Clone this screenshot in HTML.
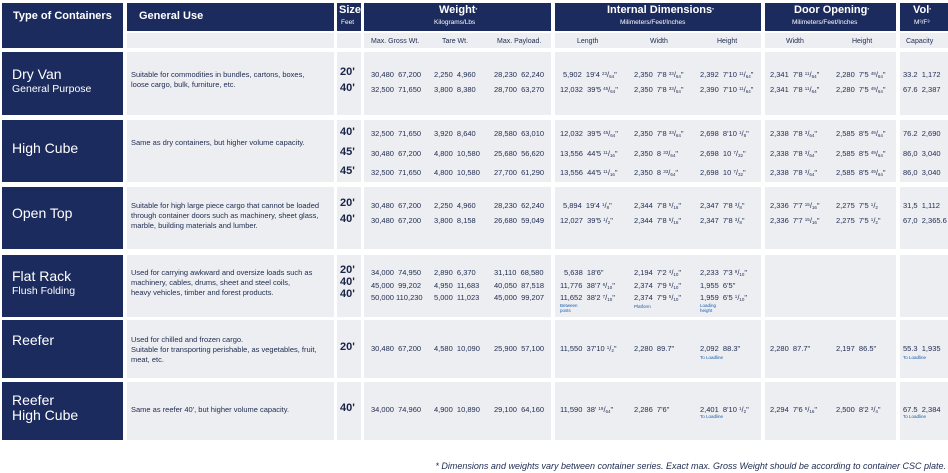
<!DOCTYPE html><html><head><meta charset="utf-8"><style>
*{margin:0;padding:0;box-sizing:border-box}
body{width:948px;height:473px;background:#fff;position:relative;overflow:hidden;font-family:"Liberation Sans",sans-serif;color:#1e2a50}
.b{position:absolute;background:#1c2b5e}
.g{position:absolute;background:#eceef1}
.t{position:absolute;white-space:nowrap;font-size:7.5px;line-height:9px}
.w{color:#fff}
.h{font-weight:bold;font-size:11px;color:#fff}
.s{font-weight:bold;font-size:11px;color:#1a2348}
.n{font-size:4.5px;color:#1b5cb0;line-height:5px}
.ty{font-size:14px;color:#fff}
.ty2{font-size:10.5px;color:#fff}
sup,sub{font-size:4.5px;vertical-align:baseline;position:relative;line-height:0}
sup{top:-2.5px}
sub{top:0.5px}
.hd{font-size:7px}
</style></head><body>
<!-- header -->
<div class="b" style="left:2px;top:3px;width:121px;height:45px"></div>
<div class="t h" style="left:13px;top:12px">Type of Containers</div>
<div class="b" style="left:127px;top:3px;width:207px;height:28px"></div>
<div class="t h" style="left:139px;top:12px">General Use</div>
<div class="b" style="left:337px;top:3px;width:24px;height:28px"></div>
<div class="t h" style="left:339px;top:6px">Size</div>
<div class="t w" style="left:341px;top:18px;font-size:6.5px">Feet</div>
<div class="b" style="left:364px;top:3px;width:187px;height:28px"></div>
<div class="t h" style="left:439px;top:6px">Weight<sup>*</sup></div>
<div class="t w" style="left:434px;top:18px;font-size:6.5px">Kilograms/Lbs</div>
<div class="b" style="left:555px;top:3px;width:206px;height:28px"></div>
<div class="t h" style="left:607px;top:6px">Internal Dimensions<sup>*</sup></div>
<div class="t w" style="left:620px;top:18px;font-size:6.5px">Milimeters/Feet/Inches</div>
<div class="b" style="left:765px;top:3px;width:131px;height:28px"></div>
<div class="t h" style="left:794px;top:6px">Door Opening<sup>*</sup></div>
<div class="t w" style="left:792px;top:18px;font-size:6.5px">Milimeters/Feet/Inches</div>
<div class="b" style="left:900px;top:3px;width:48px;height:28px"></div>
<div class="t h" style="left:913px;top:6px">Vol<sup>*</sup></div>
<div class="t w" style="left:914px;top:18px;font-size:6.5px">M³/F³</div>
<div class="g" style="left:127px;top:33px;width:207px;height:15px"></div>
<div class="g" style="left:337px;top:33px;width:24px;height:15px"></div>
<div class="g" style="left:364px;top:33px;width:187px;height:15px"></div>
<div class="g" style="left:555px;top:33px;width:206px;height:15px"></div>
<div class="g" style="left:765px;top:33px;width:131px;height:15px"></div>
<div class="g" style="left:900px;top:33px;width:48px;height:15px"></div>
<div class="t hd" style="left:371px;top:37px">Max. Gross Wt.</div>
<div class="t hd" style="left:442px;top:37px">Tare Wt.</div>
<div class="t hd" style="left:497px;top:37px">Max. Payload.</div>
<div class="t hd" style="left:577px;top:37px">Length</div>
<div class="t hd" style="left:650px;top:37px">Width</div>
<div class="t hd" style="left:717px;top:37px">Height</div>
<div class="t hd" style="left:786px;top:37px">Width</div>
<div class="t hd" style="left:852px;top:37px">Height</div>
<div class="t hd" style="left:906px;top:37px">Capacity</div>

<!-- row backgrounds -->
<div class="b" style="left:2px;top:52px;width:121px;height:63px"></div>
<div class="b" style="left:2px;top:120px;width:121px;height:62px"></div>
<div class="b" style="left:2px;top:187px;width:121px;height:62px"></div>
<div class="b" style="left:2px;top:255px;width:121px;height:62px"></div>
<div class="b" style="left:2px;top:320px;width:121px;height:58px"></div>
<div class="b" style="left:2px;top:382px;width:121px;height:58px"></div>

<div class="g" style="left:127px;top:52px;width:207px;height:63px"></div><div class="g" style="left:337px;top:52px;width:24px;height:63px"></div><div class="g" style="left:364px;top:52px;width:187px;height:63px"></div><div class="g" style="left:555px;top:52px;width:206px;height:63px"></div><div class="g" style="left:765px;top:52px;width:131px;height:63px"></div><div class="g" style="left:900px;top:52px;width:48px;height:63px"></div>
<div class="g" style="left:127px;top:120px;width:207px;height:62px"></div><div class="g" style="left:337px;top:120px;width:24px;height:62px"></div><div class="g" style="left:364px;top:120px;width:187px;height:62px"></div><div class="g" style="left:555px;top:120px;width:206px;height:62px"></div><div class="g" style="left:765px;top:120px;width:131px;height:62px"></div><div class="g" style="left:900px;top:120px;width:48px;height:62px"></div>
<div class="g" style="left:127px;top:187px;width:207px;height:62px"></div><div class="g" style="left:337px;top:187px;width:24px;height:62px"></div><div class="g" style="left:364px;top:187px;width:187px;height:62px"></div><div class="g" style="left:555px;top:187px;width:206px;height:62px"></div><div class="g" style="left:765px;top:187px;width:131px;height:62px"></div><div class="g" style="left:900px;top:187px;width:48px;height:62px"></div>
<div class="g" style="left:127px;top:255px;width:207px;height:62px"></div><div class="g" style="left:337px;top:255px;width:24px;height:62px"></div><div class="g" style="left:364px;top:255px;width:187px;height:62px"></div><div class="g" style="left:555px;top:255px;width:206px;height:62px"></div><div class="g" style="left:765px;top:255px;width:131px;height:62px"></div><div class="g" style="left:900px;top:255px;width:48px;height:62px"></div>
<div class="g" style="left:127px;top:320px;width:207px;height:58px"></div><div class="g" style="left:337px;top:320px;width:24px;height:58px"></div><div class="g" style="left:364px;top:320px;width:187px;height:58px"></div><div class="g" style="left:555px;top:320px;width:206px;height:58px"></div><div class="g" style="left:765px;top:320px;width:131px;height:58px"></div><div class="g" style="left:900px;top:320px;width:48px;height:58px"></div>
<div class="g" style="left:127px;top:382px;width:207px;height:58px"></div><div class="g" style="left:337px;top:382px;width:24px;height:58px"></div><div class="g" style="left:364px;top:382px;width:187px;height:58px"></div><div class="g" style="left:555px;top:382px;width:206px;height:58px"></div><div class="g" style="left:765px;top:382px;width:131px;height:58px"></div><div class="g" style="left:900px;top:382px;width:48px;height:58px"></div>

<!-- type labels -->
<div class="t ty" style="left:12px;top:70px">Dry Van</div>
<div class="t ty2" style="left:12px;top:85px">General Purpose</div>
<div class="t ty" style="left:12px;top:144px">High Cube</div>
<div class="t ty" style="left:12px;top:209px">Open Top</div>
<div class="t ty" style="left:12px;top:272px">Flat Rack</div>
<div class="t ty2" style="left:12px;top:287px">Flush Folding</div>
<div class="t ty" style="left:12px;top:336px">Reefer</div>
<div class="t ty" style="left:12px;top:396px">Reefer</div>
<div class="t ty" style="left:12px;top:411px">High Cube</div>

<!-- general use -->
<div class="t" style="left:131px;top:70px;line-height:10px">Suitable for commodities in bundles, cartons, boxes,<br>loose cargo, bulk, furniture, etc.</div>
<div class="t" style="left:131px;top:138px">Same as dry containers, but higher volume capacity.</div>
<div class="t" style="left:131px;top:201px;line-height:10px">Suitable for high large piece cargo that cannot be loaded<br>through container doors such as machinery, sheet glass,<br>marble, building materials and lumber.</div>
<div class="t" style="left:131px;top:268px;line-height:10px">Used for carrying awkward and oversize loads such as<br>machinery, cables, drums, sheet and steel coils,<br>heavy vehicles, timber and forest products.</div>
<div class="t" style="left:131px;top:335px;line-height:10px">Used for chilled and frozen cargo.<br>Suitable for transporting perishable, as vegetables, fruit,<br>meat, etc.</div>
<div class="t" style="left:131px;top:405px">Same as reefer 40', but higher volume capacity.</div>

<!-- sizes -->
<div class="t s" style="left:340px;top:68px">20'</div><div class="t s" style="left:340px;top:84px">40'</div>
<div class="t s" style="left:340px;top:128px">40'</div><div class="t s" style="left:340px;top:148px">45'</div><div class="t s" style="left:340px;top:167px">45'</div>
<div class="t s" style="left:340px;top:199px">20'</div><div class="t s" style="left:340px;top:215px">40'</div>
<div class="t s" style="left:340px;top:266px">20'</div><div class="t s" style="left:340px;top:278px">40'</div><div class="t s" style="left:340px;top:290px">40'</div>
<div class="t s" style="left:340px;top:343px">20'</div>
<div class="t s" style="left:340px;top:404px">40'</div>

<!-- Dry van -->
<div class="t" style="left:371px;top:70px">30,480&nbsp; 67,200</div><div class="t" style="left:434px;top:70px">2,250&nbsp; 4,960</div><div class="t" style="left:494px;top:70px">28,230&nbsp; 62,240</div><div class="t" style="left:563px;top:70px">5,902&nbsp; 19'4 <sup>23</sup>/<sub>64</sub>"</div><div class="t" style="left:634px;top:70px">2,350&nbsp; 7'8 <sup>33</sup>/<sub>64</sub>"</div><div class="t" style="left:700px;top:70px">2,392&nbsp; 7'10 <sup>11</sup>/<sub>64</sub>"</div><div class="t" style="left:770px;top:70px">2,341&nbsp; 7'8 <sup>11</sup>/<sub>64</sub>"</div><div class="t" style="left:836px;top:70px">2,280&nbsp; 7'5 <sup>49</sup>/<sub>64</sub>"</div><div class="t" style="left:903px;top:70px">33.2&nbsp; 1,172</div>
<div class="t" style="left:371px;top:85px">32,500&nbsp; 71,650</div><div class="t" style="left:434px;top:85px">3,800&nbsp; 8,380</div><div class="t" style="left:494px;top:85px">28,700&nbsp; 63,270</div><div class="t" style="left:560px;top:85px">12,032&nbsp; 39'5 <sup>45</sup>/<sub>64</sub>"</div><div class="t" style="left:634px;top:85px">2,350&nbsp; 7'8 <sup>33</sup>/<sub>64</sub>"</div><div class="t" style="left:700px;top:85px">2,390&nbsp; 7'10 <sup>11</sup>/<sub>64</sub>"</div><div class="t" style="left:770px;top:85px">2,341&nbsp; 7'8 <sup>11</sup>/<sub>64</sub>"</div><div class="t" style="left:836px;top:85px">2,280&nbsp; 7'5 <sup>49</sup>/<sub>64</sub>"</div><div class="t" style="left:903px;top:85px">67.6&nbsp; 2,387</div>
<!-- High cube -->
<div class="t" style="left:371px;top:129px">32,500&nbsp; 71,650</div><div class="t" style="left:434px;top:129px">3,920&nbsp; 8,640</div><div class="t" style="left:494px;top:129px">28,580&nbsp; 63,010</div><div class="t" style="left:560px;top:129px">12,032&nbsp; 39'5 <sup>45</sup>/<sub>64</sub>"</div><div class="t" style="left:634px;top:129px">2,350&nbsp; 7'8 <sup>33</sup>/<sub>64</sub>"</div><div class="t" style="left:700px;top:129px">2,698&nbsp; 8'10 <sup>1</sup>/<sub>8</sub>"</div><div class="t" style="left:770px;top:129px">2,338&nbsp; 7'8 <sup>3</sup>/<sub>64</sub>"</div><div class="t" style="left:836px;top:129px">2,585&nbsp; 8'5 <sup>49</sup>/<sub>64</sub>"</div><div class="t" style="left:903px;top:129px">76.2&nbsp; 2,690</div>
<div class="t" style="left:371px;top:149px">30,480&nbsp; 67,200</div><div class="t" style="left:434px;top:149px">4,800&nbsp; 10,580</div><div class="t" style="left:494px;top:149px">25,680&nbsp; 56,620</div><div class="t" style="left:560px;top:149px">13,556&nbsp; 44'5 <sup>11</sup>/<sub>16</sub>"</div><div class="t" style="left:634px;top:149px">2,350&nbsp; 8 <sup>33</sup>/<sub>64</sub>"</div><div class="t" style="left:700px;top:149px">2,698&nbsp; 10 <sup>7</sup>/<sub>32</sub>"</div><div class="t" style="left:770px;top:149px">2,338&nbsp; 7'8 <sup>3</sup>/<sub>64</sub>"</div><div class="t" style="left:836px;top:149px">2,585&nbsp; 8'5 <sup>49</sup>/<sub>64</sub>"</div><div class="t" style="left:903px;top:149px">86,0&nbsp; 3,040</div>
<div class="t" style="left:371px;top:168px">32,500&nbsp; 71,650</div><div class="t" style="left:434px;top:168px">4,800&nbsp; 10,580</div><div class="t" style="left:494px;top:168px">27,700&nbsp; 61,290</div><div class="t" style="left:560px;top:168px">13,556&nbsp; 44'5 <sup>11</sup>/<sub>16</sub>"</div><div class="t" style="left:634px;top:168px">2,350&nbsp; 8 <sup>33</sup>/<sub>64</sub>"</div><div class="t" style="left:700px;top:168px">2,698&nbsp; 10 <sup>7</sup>/<sub>32</sub>"</div><div class="t" style="left:770px;top:168px">2,338&nbsp; 7'8 <sup>3</sup>/<sub>64</sub>"</div><div class="t" style="left:836px;top:168px">2,585&nbsp; 8'5 <sup>49</sup>/<sub>64</sub>"</div><div class="t" style="left:903px;top:168px">86,0&nbsp; 3,040</div>
<!-- Open top -->
<div class="t" style="left:371px;top:201px">30,480&nbsp; 67,200</div><div class="t" style="left:434px;top:201px">2,250&nbsp; 4,960</div><div class="t" style="left:494px;top:201px">28,230&nbsp; 62,240</div><div class="t" style="left:563px;top:201px">5,894&nbsp; 19'4 <sup>1</sup>/<sub>8</sub>"</div><div class="t" style="left:634px;top:201px">2,344&nbsp; 7'8 <sup>5</sup>/<sub>16</sub>"</div><div class="t" style="left:700px;top:201px">2,347&nbsp; 7'8 <sup>3</sup>/<sub>8</sub>"</div><div class="t" style="left:770px;top:201px">2,336&nbsp; 7'7 <sup>15</sup>/<sub>16</sub>"</div><div class="t" style="left:836px;top:201px">2,275&nbsp; 7'5 <sup>1</sup>/<sub>2</sub></div><div class="t" style="left:903px;top:201px">31,5&nbsp; 1,112</div>
<div class="t" style="left:371px;top:216px">30,480&nbsp; 67,200</div><div class="t" style="left:434px;top:216px">3,800&nbsp; 8,158</div><div class="t" style="left:494px;top:216px">26,680&nbsp; 59,049</div><div class="t" style="left:560px;top:216px">12,027&nbsp; 39'5 <sup>1</sup>/<sub>2</sub>"</div><div class="t" style="left:634px;top:216px">2,344&nbsp; 7'8 <sup>5</sup>/<sub>16</sub>"</div><div class="t" style="left:700px;top:216px">2,347&nbsp; 7'8 <sup>3</sup>/<sub>8</sub>"</div><div class="t" style="left:770px;top:216px">2,336&nbsp; 7'7 <sup>15</sup>/<sub>16</sub>"</div><div class="t" style="left:836px;top:216px">2,275&nbsp; 7'5 <sup>1</sup>/<sub>2</sub>"</div><div class="t" style="left:903px;top:216px">67,0&nbsp; 2,365.6</div>
<!-- Flat rack -->
<div class="t" style="left:371px;top:268px">34,000&nbsp; 74,950</div><div class="t" style="left:434px;top:268px">2,890&nbsp; 6,370</div><div class="t" style="left:494px;top:268px">31,110&nbsp; 68,580</div><div class="t" style="left:564px;top:268px">5,638&nbsp; 18'6"</div><div class="t" style="left:634px;top:268px">2,194&nbsp; 7'2 <sup>4</sup>/<sub>10</sub>"</div><div class="t" style="left:700px;top:268px">2,233&nbsp; 7'3 <sup>9</sup>/<sub>10</sub>"</div>
<div class="t" style="left:371px;top:281px">45,000&nbsp; 99,202</div><div class="t" style="left:434px;top:281px">4,950&nbsp; 11,683</div><div class="t" style="left:494px;top:281px">40,050&nbsp; 87,518</div><div class="t" style="left:560px;top:281px">11,776&nbsp; 38'7 <sup>6</sup>/<sub>10</sub>"</div><div class="t" style="left:634px;top:281px">2,374&nbsp; 7'9 <sup>5</sup>/<sub>10</sub>"</div><div class="t" style="left:700px;top:281px">1,955&nbsp; 6'5"</div>
<div class="t" style="left:371px;top:293px">50,000&nbsp;110,230</div><div class="t" style="left:434px;top:293px">5,000&nbsp; 11,023</div><div class="t" style="left:494px;top:293px">45,000&nbsp; 99,207</div><div class="t" style="left:560px;top:293px">11,652&nbsp; 38'2 <sup>7</sup>/<sub>10</sub>"</div><div class="t" style="left:634px;top:293px">2,374&nbsp; 7'9 <sup>5</sup>/<sub>10</sub>"</div><div class="t" style="left:700px;top:293px">1,959&nbsp; 6'5 <sup>1</sup>/<sub>10</sub>"</div>
<div class="t n" style="left:560px;top:303px">Between<br>posts</div><div class="t n" style="left:634px;top:304px">Platform</div><div class="t n" style="left:700px;top:303px">Loading<br>height</div>
<!-- Reefer -->
<div class="t" style="left:371px;top:344px">30,480&nbsp; 67,200</div><div class="t" style="left:434px;top:344px">4,580&nbsp; 10,090</div><div class="t" style="left:494px;top:344px">25,900&nbsp; 57,100</div><div class="t" style="left:560px;top:344px">11,550&nbsp; 37'10 <sup>1</sup>/<sub>2</sub>"</div><div class="t" style="left:634px;top:344px">2,280&nbsp; 89.7"</div><div class="t" style="left:700px;top:344px">2,092&nbsp; 88.3"</div><div class="t" style="left:770px;top:344px">2,280&nbsp; 87.7"</div><div class="t" style="left:836px;top:344px">2,197&nbsp; 86.5"</div><div class="t" style="left:903px;top:344px">55.3&nbsp; 1,935</div>
<div class="t n" style="left:700px;top:355px">To Loadline</div><div class="t n" style="left:903px;top:355px">To Loadline</div>
<!-- Reefer HC -->
<div class="t" style="left:371px;top:405px">34,000&nbsp; 74,960</div><div class="t" style="left:434px;top:405px">4,900&nbsp; 10,890</div><div class="t" style="left:494px;top:405px">29,100&nbsp; 64,160</div><div class="t" style="left:560px;top:405px">11,590&nbsp; 38' <sup>19</sup>/<sub>64</sub>"</div><div class="t" style="left:634px;top:405px">2,286&nbsp; 7'6"</div><div class="t" style="left:700px;top:405px">2,401&nbsp; 8'10 <sup>1</sup>/<sub>2</sub>"</div><div class="t" style="left:770px;top:405px">2,294&nbsp; 7'6 <sup>5</sup>/<sub>16</sub>"</div><div class="t" style="left:836px;top:405px">2,500&nbsp; 8'2 <sup>3</sup>/<sub>4</sub>"</div><div class="t" style="left:903px;top:405px">67.5&nbsp; 2,384</div>
<div class="t n" style="left:700px;top:414px">To Loadline</div><div class="t n" style="left:903px;top:414px">To Loadline</div>

<div class="t" style="right:2px;top:461px;font-size:9px;font-style:italic;line-height:11px">* Dimensions and weights vary between container series. Exact max. Gross Weight should be according to container CSC plate.</div>
</body></html>
